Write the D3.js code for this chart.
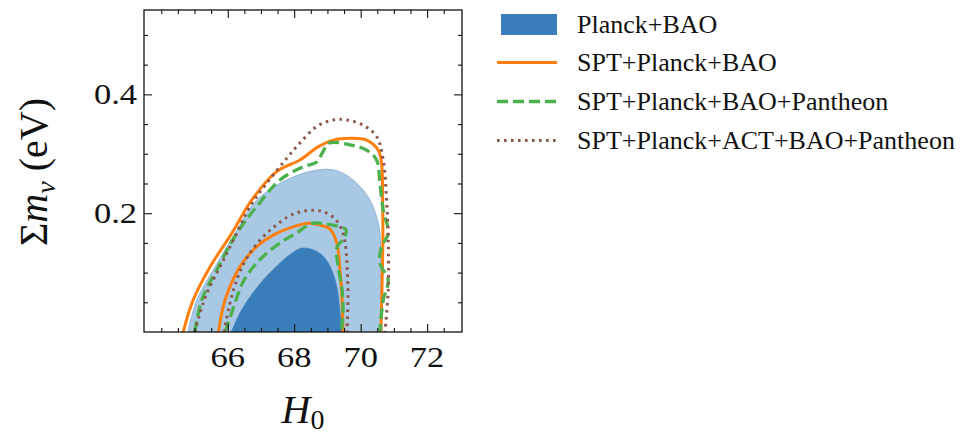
<!DOCTYPE html>
<html>
<head>
<meta charset="utf-8">
<script src="https://cdn.jsdelivr.net/npm/d3@7/dist/d3.min.js"></script>
<style>
  body { margin: 0; background: #fff; }
  svg { display: block; }
  text { font-family: "Liberation Serif", "Times New Roman", serif; fill: #111; }
</style>
</head>
<body>
<svg id="chart" width="965" height="435"></svg>
<script>
// Credible-region contours in the (H0, Σmν) plane, each an open curve that
// starts and ends on the Σmν = 0 boundary.  Points are [H0, Σmν (eV)].
const planckBao95 = [[64.80,0],[65.07,0.054],[65.62,0.110],[66.22,0.166],[66.87,0.222],[67.97,0.261],[68.98,0.274],[69.48,0.267],[69.98,0.245],[70.28,0.222],[70.48,0.194],[70.58,0.166],[70.61,0.088],[70.64,0]];
const planckBao68 = [[66.11,0],[66.37,0.032],[66.67,0.059],[67.07,0.0875],[67.57,0.1156],[67.93,0.1325],[68.23,0.141],[68.58,0.138],[68.88,0.127],[69.13,0.104],[69.28,0.076],[69.36,0.043],[69.43,0]];

const sptPlanckBao95 = [[64.66,0],[64.96,0.054],[65.47,0.110],[66.12,0.166],[66.72,0.222],[67.47,0.270],[68.17,0.2895],[68.73,0.312],[69.18,0.323],[69.68,0.326],[70.18,0.323],[70.53,0.306],[70.63,0.284],[70.66,0.222],[70.67,0.155],[70.64,0.071],[70.61,0]];
const sptPlanckBao68 = [[65.72,0],[65.92,0.054],[66.37,0.110],[66.87,0.1436],[67.47,0.166],[67.97,0.177],[68.42,0.183],[68.78,0.180],[69.08,0.173],[69.28,0.150],[69.38,0.104],[69.44,0.054],[69.47,0]];

const sptPlanckBaoPan95 = [[65.01,0],[65.22,0.054],[65.72,0.110],[66.27,0.166],[66.87,0.211],[67.57,0.256],[68.27,0.278],[68.68,0.286],[68.86,0.303],[69.05,0.318],[69.68,0.315],[70.18,0.306],[70.48,0.2895],[70.58,0.250],[70.68,0.205],[70.83,0.166],[70.63,0.1436],[70.58,0.1156],[70.83,0.0875],[70.68,0.054],[70.58,0]];
const sptPlanckBaoPan68 = [[65.92,0],[66.10,0.029],[66.28,0.059],[66.46,0.084],[66.76,0.109],[67.12,0.130],[67.66,0.153],[68.08,0.167],[68.54,0.183],[68.93,0.182],[69.32,0.178],[69.56,0.172],[69.50,0.158],[69.29,0.143],[69.32,0.111],[69.44,0.071],[69.47,0.037],[69.42,0]];

const sptPlanckActBaoPan95 = [[65.01,0],[65.14,0.027],[65.37,0.065],[65.77,0.110],[66.17,0.155],[66.67,0.211],[67.17,0.250],[67.77,0.292],[68.17,0.318],[68.68,0.346],[69.18,0.357],[69.58,0.357],[70.08,0.348],[70.48,0.329],[70.68,0.2895],[70.78,0.222],[70.83,0.155],[70.83,0.071],[70.73,0]];
const sptPlanckActBaoPan68 = [[65.89,0],[66.04,0.042],[66.22,0.079],[66.46,0.113],[66.76,0.140],[67.06,0.160],[67.42,0.178],[67.81,0.194],[68.17,0.202],[68.54,0.205],[68.90,0.202],[69.20,0.192],[69.41,0.175],[69.53,0.151],[69.59,0.113],[69.62,0.062],[69.59,0]];

// Axis ticks
const xMajorTicks = [66, 68, 70, 72];
const xMinorTicks = [64, 64.5, 65, 65.5, 66.5, 67, 67.5, 68.5, 69, 69.5, 70.5, 71, 71.5, 72.5];
const yMajorTicks = [0.2, 0.4];
const yMinorTicks = [0.05, 0.1, 0.15, 0.25, 0.3, 0.35, 0.45, 0.5];

// Legend entries
const legendLabels = ["Planck+BAO", "SPT+Planck+BAO", "SPT+Planck+BAO+Pantheon", "SPT+Planck+ACT+BAO+Pantheon"];

const xDomain = [63.48, 73.05];
const yDomain = [0, 0.542];

const svg = d3.select("#chart");
const plot = { left: 144, right: 462, top: 10, bottom: 332 };

const x = d3.scaleLinear().domain(xDomain).range([plot.left, plot.right]);
const y = d3.scaleLinear().domain(yDomain).range([plot.bottom, plot.top]);

const colors = {
  dark: "#3a7dbb",
  light: "#a9c8e3",
  lightEdge: "#7ea9d3",
  orange: "#ff7f0e",
  green: "#4cb04c",
  brown: "#8c564b"
};

svg.append("defs").append("clipPath").attr("id", "plotClip")
  .append("rect")
  .attr("x", plot.left).attr("y", plot.top)
  .attr("width", plot.right - plot.left).attr("height", plot.bottom - plot.top);

const g = svg.append("g").attr("clip-path", "url(#plotClip)");

const curve = d3.curveCatmullRom.alpha(0.5);
const line = d3.line().x(d => x(d[0])).y(d => y(d[1])).curve(curve);

// Filled Planck+BAO regions (closed along the Σmν = 0 edge)
g.append("path").attr("d", line(planckBao95) + "Z")
  .attr("fill", colors.light).attr("stroke", colors.lightEdge).attr("stroke-width", 0.8);
g.append("path").attr("d", line(planckBao68) + "Z")
  .attr("fill", colors.dark).attr("stroke", colors.dark).attr("stroke-width", 0.8);

const lineStyles = [
  { data: [sptPlanckBao95, sptPlanckBao68], color: colors.orange, width: 3, dash: null },
  { data: [sptPlanckBaoPan95, sptPlanckBaoPan68], color: colors.green, width: 3.3, dash: "11,5" },
  { data: [sptPlanckActBaoPan95, sptPlanckActBaoPan68], color: colors.brown, width: 3, dash: "2.6,4.4" }
];

lineStyles.forEach(s => {
  s.data.forEach(pts => {
    g.append("path").attr("d", line(pts))
      .attr("fill", "none")
      .attr("stroke", s.color)
      .attr("stroke-width", s.width)
      .attr("stroke-dasharray", s.dash)
      .attr("stroke-linejoin", "round");
  });
});

// Axes with inward ticks on all four sides
function tickAxis(axisFn, scale, ticks, size, translate) {
  const a = axisFn(scale).tickValues(ticks).tickSize(size).tickFormat("");
  const sel = svg.append("g").attr("transform", translate).call(a);
  sel.select(".domain").remove();
  sel.selectAll(".tick line").attr("stroke", "#111").attr("stroke-width", 1.1);
  return sel;
}
const majorLen = 8, minorLen = 4;
tickAxis(d3.axisBottom, x, xMajorTicks, -majorLen, `translate(0,${plot.bottom})`);
tickAxis(d3.axisBottom, x, xMinorTicks, -minorLen, `translate(0,${plot.bottom})`);
tickAxis(d3.axisTop, x, xMajorTicks, -majorLen, `translate(0,${plot.top})`);
tickAxis(d3.axisTop, x, xMinorTicks, -minorLen, `translate(0,${plot.top})`);
tickAxis(d3.axisLeft, y, yMajorTicks, -majorLen, `translate(${plot.left},0)`);
tickAxis(d3.axisLeft, y, yMinorTicks, -minorLen, `translate(${plot.left},0)`);
tickAxis(d3.axisRight, y, yMajorTicks, -majorLen, `translate(${plot.right},0)`);
tickAxis(d3.axisRight, y, yMinorTicks, -minorLen, `translate(${plot.right},0)`);

svg.append("rect")
  .attr("x", plot.left).attr("y", plot.top)
  .attr("width", plot.right - plot.left).attr("height", plot.bottom - plot.top)
  .attr("fill", "none").attr("stroke", "#111").attr("stroke-width", 1.3);

// Tick labels (slightly widened serif digits)
svg.append("g").selectAll("text").data(xMajorTicks).join("text")
  .attr("transform", d => `translate(${x(d)},367) scale(1.15,1)`)
  .attr("text-anchor", "middle").attr("font-size", 30)
  .text(d => d);
svg.append("g").selectAll("text").data(yMajorTicks).join("text")
  .attr("transform", d => `translate(137,${y(d) + 10}) scale(1.15,1)`)
  .attr("text-anchor", "end").attr("font-size", 30)
  .text(d => d.toFixed(1));

// Axis titles
const xt = svg.append("text").attr("x", 303).attr("y", 423)
  .attr("text-anchor", "middle").attr("font-size", 40);
xt.append("tspan").attr("font-style", "italic").text("H");
xt.append("tspan").attr("font-size", 28).attr("dy", 6).text("0");

const yt = svg.append("text")
  .attr("transform", "translate(47,172) rotate(-90)")
  .attr("text-anchor", "middle").attr("font-size", 40);
yt.append("tspan").text("Σ");
yt.append("tspan").attr("font-style", "italic").text("m");
yt.append("tspan").attr("font-style", "italic").attr("font-size", 28).attr("dy", 8).text("ν");
yt.append("tspan").attr("dy", -8).text(" (eV)");

// Legend
const legend = svg.append("g");
const rowY = [24.5, 62.5, 101.5, 140.5];
legend.append("rect").attr("x", 501).attr("y", 14).attr("width", 56).attr("height", 21)
  .attr("fill", colors.dark);
lineStyles.forEach((s, i) => {
  legend.append("line")
    .attr("x1", 497).attr("x2", 557)
    .attr("y1", rowY[i + 1]).attr("y2", rowY[i + 1])
    .attr("stroke", s.color).attr("stroke-width", s.width)
    .attr("stroke-dasharray", s.dash);
});
legend.selectAll("text.lab").data(legendLabels).join("text")
  .attr("class", "lab")
  .attr("x", 577).attr("y", (d, i) => rowY[i] + 8.5)
  .attr("font-size", 26)
  .text(d => d);
</script>
</body>
</html>
